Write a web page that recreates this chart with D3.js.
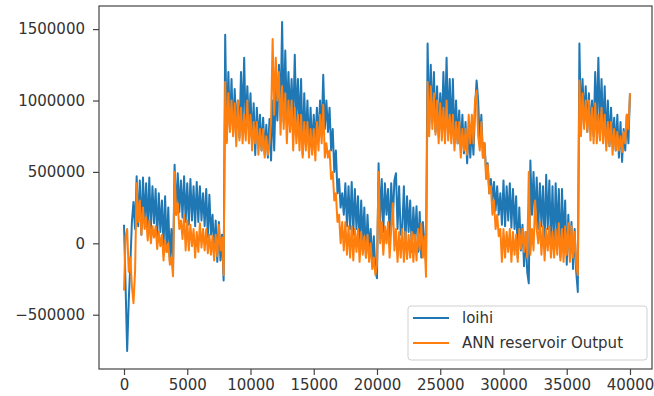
<!DOCTYPE html>
<html>
<head>
<meta charset="utf-8">
<script src="https://cdn.jsdelivr.net/npm/d3@7"></script>
<style>
  html, body { margin: 0; padding: 0; background: #fff; }
  svg { display: block; font-family: "DejaVu Sans", sans-serif; }
</style>
</head>
<body>
<svg id="chart" width="654" height="396"></svg>
<script>
// Sample spacing along the time axis and value unit (series are stored in thousands)
const sampleStep = 125;
const unit = 1000;

// Loihi output (thousands), one row per 2000 time steps
const loihi = [
  130, -300, -754, -400, -150, 150, 290, 100, 470, 120, 440, 60, 460, 150, 420, 90,
  460, 100, 400, 140, 380, 40, 350, 80, 300, -20, 330, -60, 250, -120, 100, -185,
  550, 200, 490, 220, 440, 180, 470, 150, 420, 130, 450, 160, 400, 120, 430, 150,
  400, 160, 350, 120, 380, 40, 340, 60, 200, -50, 160, -130, 150, -120, 60, -260,
  1460, 720, 1200, 800, 1150, 760, 1080, 820, 1000, 740, 1200, 850, 1300, 780, 1100, 820,
  1050, 700, 980, 618, 950, 720, 900, 650, 880, 620, 830, 600, 870, 580, 1000, 650,
  1100, 860, 1250, 900, 1550, 850, 1350, 880, 1200, 900, 1150, 820, 1320, 850, 1150, 800,
  1150, 620, 1050, 700, 1000, 680, 950, 650, 900, 700, 950, 720, 1000, 760, 1180, 800,
  1000, 780, 950, 650, 800, 500, 650, 350, 450, 250, 350, 200, 420, 120, 400, 100,
  430, 60, 380, 100, 330, -30, 300, 20, 250, -100, 200, -50, 100, -150, 50, -200,
  -245, 560, 150, 450, 80, 420, 200, 380, 50, 420, 150, 440, 490, 100, 400, 60,
  100, 400, 0, 330, 80, 300, -60, 250, 20, 260, -60, 220, -100, 150, 0, -140,
  1400, 800, 1250, 850, 1200, 780, 1100, 750, 1050, 800, 1200, 820, 1300, 800, 1150, 760,
  1150, 700, 1000, 700, 930, 650, 900, 630, 850, 560, 800, 600, 820, 620, 950, 1140,
  1000, 700, 900, 600, 700, 500, 560, 350, 450, 300, 430, 230, 400, 200, 350, 130,
  440, 120, 400, 160, 420, 110, 380, 100, 330, -100, 250, -50, 130, -160, 80, -200,
  -280, 580, 200, 500, 150, 460, 100, 420, 120, 400, 0, 480, 100, 440, 20, 400,
  -50, 420, 50, 380, -100, 380, 0, 300, -150, 200, -100, 150, -180, 100, -200, -341,
  1400, 800, 1150, 850, 1100, 780, 1050, 800, 1000, 750, 1200, 820, 1300, 800, 1150, 760,
  1100, 700, 1000, 680, 950, 700, 880, 650, 900, 600, 850, 570, 800, 650, 900, 700,
  1050
];

// ANN reservoir output (thousands), one row per 2000 time steps
const annOutput = [
  -330, 50, 100, -200, -100, -300, -420, -200, 420, 150, 300, 60, 250, 100, 180, 20,
  160, 0, 120, 40, 120, -40, 80, -20, 60, -120, 20, -60, 0, -150, -100, -230,
  500, 200, 280, 100, 160, 30, 200, -50, 160, -50, 130, -20, 100, -100, 80, -60,
  140, -30, 100, -50, 100, -70, 60, -80, 50, -120, 60, -90, 130, -50, 40, -222,
  1130, 700, 1050, 780, 1000, 750, 980, 680, 1000, 720, 950, 700, 900, 720, 1000, 700,
  900, 650, 850, 700, 850, 620, 800, 650, 800, 600, 750, 620, 700, 850, 1430, 900,
  1300, 1000, 1200, 760, 1100, 800, 1050, 700, 1000, 780, 1000, 650, 950, 700, 900, 650,
  900, 600, 850, 650, 850, 600, 800, 620, 800, 580, 850, 650, 900, 700, 970, 600,
  700, 600, 650, 450, 500, 300, 350, 150, 200, 0, 150, -50, 150, -80, 120, -100,
  120, -120, 100, -60, 100, -130, 80, -80, 50, -100, 60, -130, 0, -180, -100, -222,
  -150, 500, 0, 150, -80, 120, 0, 150, -100, 100, 280, -50, 100, -130, 80, -100,
  100, -130, 80, -110, 60, -100, 80, -130, 60, -120, 100, -50, 140, -100, 50, -235,
  1130, 750, 1100, 800, 1050, 760, 1000, 700, 980, 720, 950, 700, 1000, 720, 900, 700,
  900, 650, 850, 700, 850, 600, 800, 650, 800, 620, 900, 700, 900, 700, 1000, 1070,
  750, 650, 850, 600, 700, 450, 550, 350, 400, 200, 300, 100, 200, 50, 100, -130,
  100, -100, 80, -60, 100, -130, 80, -80, 60, -130, 100, -40, 100, -60, 80, -100,
  500, -80, 100, -50, 300, 100, 0, 150, -80, 120, -120, 100, -50, 120, -100, 80,
  -100, 100, -80, 140, -120, 100, -130, 120, -80, 140, -130, 120, -100, 80, -150, -222,
  1140, 750, 1050, 800, 1000, 780, 1000, 720, 950, 700, 980, 700, 900, 720, 950, 700,
  900, 650, 850, 680, 850, 620, 800, 650, 780, 650, 750, 640, 780, 700, 900, 800,
  1050
];

const seriesNames = ["loihi", "ANN reservoir Output"];
const seriesColors = ["#1f77b4", "#ff7f0e"];
const xTicks = [0, 5000, 10000, 15000, 20000, 25000, 30000, 35000, 40000];
const yTicks = [-500000, 0, 500000, 1000000, 1500000];

const plot = { left: 99, right: 652, top: 6, bottom: 369 };

const svg = d3.select("#chart");

const x = d3.scaleLinear().domain([-1976, 41740]).range([plot.left, plot.right]);
const y = d3.scaleLinear().domain([-880250, 1661800]).range([plot.bottom, plot.top]);

const toPoints = arr => arr.map((v, i) => [i * sampleStep, v * unit]);

const line = d3.line()
  .x(d => x(d[0]))
  .y(d => y(d[1]));

const lines = svg.append("g");
[loihi, annOutput].forEach((arr, k) => {
  lines.append("path")
    .attr("d", line(toPoints(arr)))
    .attr("fill", "none")
    .attr("stroke", seriesColors[k])
    .attr("stroke-width", 2)
    .attr("stroke-linejoin", "round");
});

// Axes
const xAxis = d3.axisBottom(x).tickValues(xTicks).tickFormat(d3.format("d")).tickSizeOuter(0).tickSize(6).tickPadding(4);
const yAxis = d3.axisLeft(y).tickValues(yTicks).tickFormat(d3.format("d")).tickSizeOuter(0).tickSize(6).tickPadding(8);

const gx = svg.append("g").attr("transform", `translate(0,${plot.bottom})`).call(xAxis);
const gy = svg.append("g").attr("transform", `translate(${plot.left},0)`).call(yAxis);

[gx, gy].forEach(g => {
  g.select(".domain").remove();
  g.selectAll(".tick line").attr("stroke", "#444").attr("stroke-width", 1.2);
  g.selectAll(".tick text").attr("fill", "#333").attr("font-size", 15)
    .attr("font-family", "DejaVu Sans, sans-serif");
});

// Frame
svg.append("rect")
  .attr("x", plot.left).attr("y", plot.top)
  .attr("width", plot.right - plot.left).attr("height", plot.bottom - plot.top)
  .attr("fill", "none").attr("stroke", "#444").attr("stroke-width", 1.2);

// Legend
const legend = svg.append("g");
legend.append("rect")
  .attr("x", 408).attr("y", 306).attr("width", 239).attr("height", 54)
  .attr("rx", 3).attr("fill", "#fff").attr("fill-opacity", 0.8)
  .attr("stroke", "#d0d0d0");
seriesNames.forEach((name, k) => {
  const yy = 318 + k * 25;
  legend.append("line")
    .attr("x1", 413).attr("x2", 449).attr("y1", yy).attr("y2", yy)
    .attr("stroke", seriesColors[k]).attr("stroke-width", 2.2);
  legend.append("text")
    .attr("x", 462).attr("y", yy).attr("dy", "0.35em")
    .attr("font-size", 15).attr("fill", "#333")
    .text(name);
});
</script>
</body>
</html>
